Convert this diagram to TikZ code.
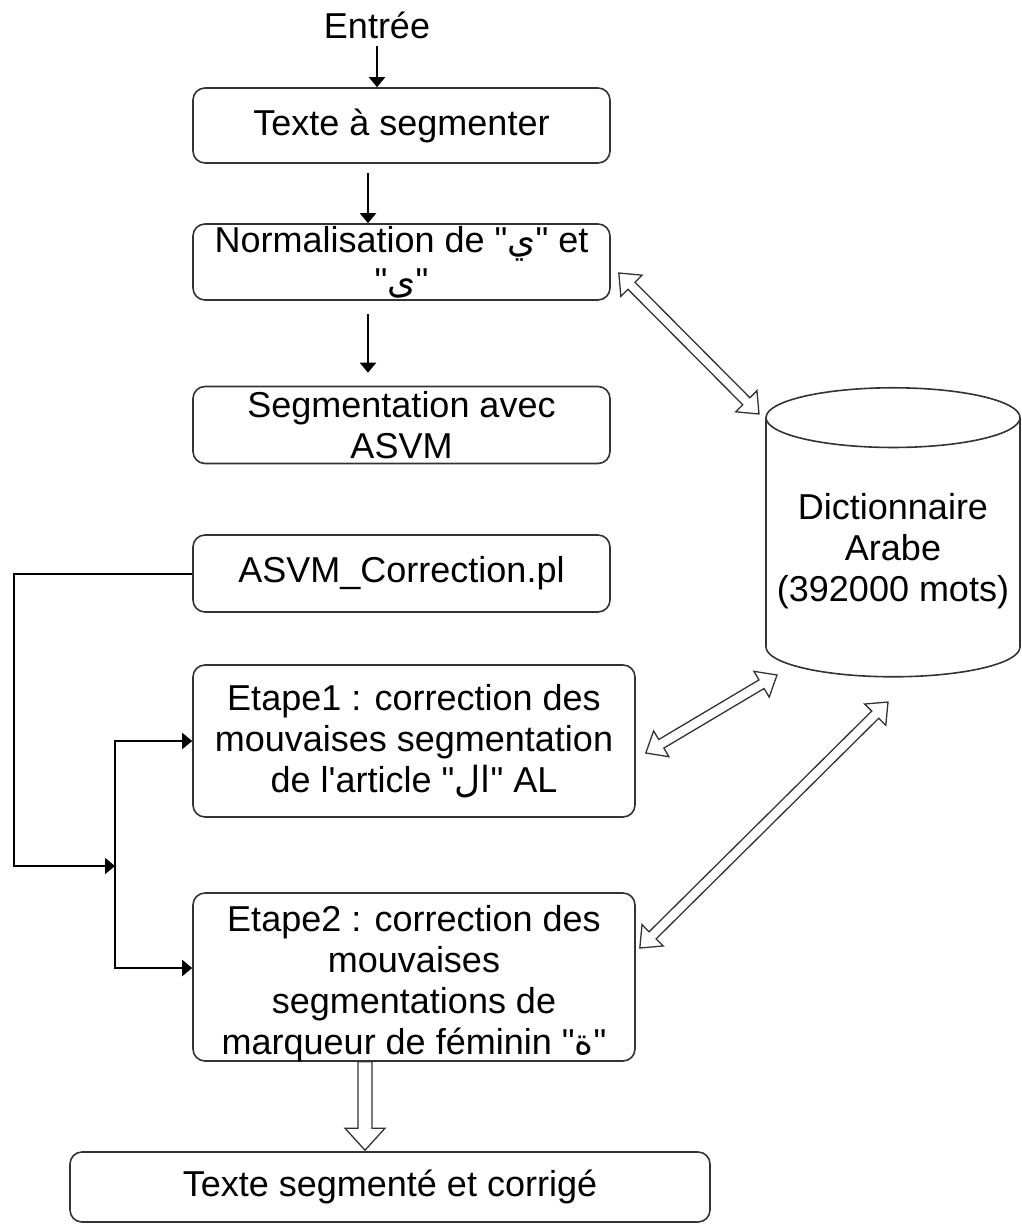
\documentclass[tikz,border=0pt]{standalone}
\usepackage{fontspec}
\setmainfont{Liberation Sans}
\newfontfamily\arabicfont[Script=Arabic]{DejaVu Sans}
\TeXXeTstate=1
\usepackage{tikz}
\usetikzlibrary{shapes.geometric, arrows.meta, calc}

\newcommand{\arab}[1]{\textquotedbl{\arabicfont\beginR #1\endR}\textquotedbl}
% hollow block arrows: double headed (#1 <-> #2) and single headed (#1 -> #2)
\newcommand{\dblblock}[2]{%
  \coordinate (ba1) at ($(#1)!18pt!(#2)$);
  \coordinate (ba2) at ($(#2)!18pt!(#1)$);
  \draw[blk] (#1) -- ($(ba1)!15pt!90:(#2)$) -- ($(ba1)!5pt!90:(#2)$)
    -- ($(ba2)!5pt!-90:(#1)$) -- ($(ba2)!15pt!-90:(#1)$) -- (#2)
    -- ($(ba2)!15pt!90:(#1)$) -- ($(ba2)!5pt!90:(#1)$)
    -- ($(ba1)!5pt!-90:(#2)$) -- ($(ba1)!15pt!-90:(#2)$) -- cycle;}
\newcommand{\sglblock}[2]{%
  \coordinate (ba2) at ($(#2)!22pt!(#1)$);
  \draw[blk] ($(#1)!7pt!90:(#2)$) -- ($(ba2)!7pt!-90:(#1)$) -- ($(ba2)!20pt!-90:(#1)$) -- (#2)
    -- ($(ba2)!20pt!90:(#1)$) -- ($(ba2)!7pt!90:(#1)$) -- ($(#1)!7pt!-90:(#2)$) -- cycle;}

\tikzset{
  box/.style={draw=black!80, line width=1.6pt, rounded corners=12pt, align=center},
  arr/.style={-{Triangle[length=10pt,width=16pt]}, line width=2pt},
  blk/.style={draw=black!80, fill=white, line width=1.3pt, line join=miter}
}

\begin{document}
\begin{tikzpicture}[x=1pt, y=-1pt, font=\fontsize{36}{41}\selectfont]
  \useasboundingbox (0,0) rectangle (1021,1225);

  \node (in) at (377,25) {Entrée};
  \node[box, minimum width=417pt, minimum height=75pt] (txt) at (401.5,125.5) {Texte à segmenter};
  \node[box, minimum width=417pt, minimum height=76pt,
    label={[align=center]center:{Normalisation de \arab{ي} et\\\arab{ى}}}] (norm) at (401.5,262) {};
  \node[box, minimum width=417pt, minimum height=77pt, inner sep=0pt] (seg) at (401.5,425)
    {Segmentation avec\\ASVM};
  \node[box, minimum width=417pt, minimum height=77pt] (cor) at (401.5,573.5) {ASVM\_Correction.pl};
  \node[box, minimum width=442pt, minimum height=152pt, inner sep=0pt] (e1) at (414,741)
    {Etape1 : correction des\\mouvaises segmentation\\de l\textquotesingle article \arab{ال} AL};
  \node[box, minimum width=442pt, minimum height=168pt,
    label={[align=center, yshift=-7pt]center:{Etape2 : correction des\\mouvaises\\segmentations de\\marqueur de féminin \arab{ة}}}] (e2) at (414,977) {};
  \node[box, minimum width=640pt, minimum height=70pt] (out) at (390,1187) {Texte segmenté et corrigé};
  \node[cylinder, shape border rotate=90, aspect=0.25, draw=black!80, line width=1.6pt,
    minimum width=254pt, minimum height=289pt, align=center] (dico) at (893,551)
    {Dictionnaire\\Arabe\\(392000 mots)};

  % main chain
  \draw[arr, shorten <=4pt] (in.south) -- (in.south |- txt.north);
  \draw[arr, shorten <=9pt] ([xshift=-33.5pt]txt.south) -- ([xshift=-33.5pt]norm.north);
  \draw[arr, shorten <=13pt, shorten >=13pt] ([xshift=-33.5pt]norm.south) -- ([xshift=-33.5pt]seg.north);

  % correction script feeds both steps
  \coordinate (split) at (115,866);
  \draw[arr] (cor.west) -- ++(-178,0) |- (split);
  \draw[arr] (split) |- (e1.west);
  \draw[arr] (split) |- ([yshift=9pt]e2.west);

  % dictionary lookups
  \coordinate (n1) at ($(norm.east)+(8,11)$);
  \coordinate (d1) at ($(dico.center)+(-134,-137)$);
  \coordinate (e1r) at ($(e1.east)+(10,12)$);
  \coordinate (d2) at ($(dico.center)+(-116,124)$);
  \coordinate (e2r) at ($(e2.east)+(4,-29)$);
  \coordinate (d3) at ($(dico.center)+(-5,151)$);
  \dblblock{n1}{d1}
  \dblblock{e1r}{d2}
  \dblblock{e2r}{d3}

  % result
  \coordinate (o1) at ([xshift=-49pt]e2.south);
  \coordinate (o2) at ([xshift=-25pt,yshift=1pt]out.north);
  \sglblock{o1}{o2}
\end{tikzpicture}
\end{document}
